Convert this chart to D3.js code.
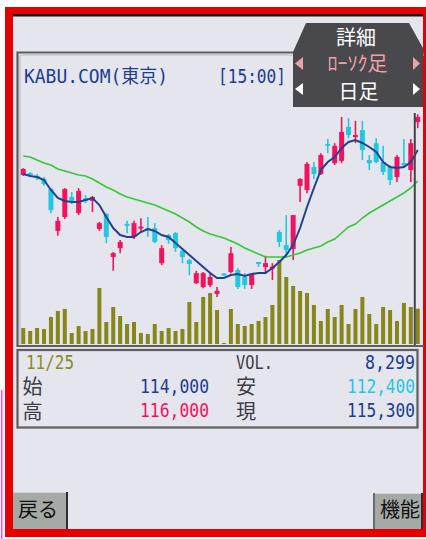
<!DOCTYPE html>
<html><head><meta charset="utf-8">
<script src="https://cdn.jsdelivr.net/npm/d3@7"></script>
<style>html,body{margin:0;padding:0;background:#fff;overflow:hidden}</style>
</head><body><svg id="c" width="426" height="539"></svg>
<script>
// ---- data ----
const openP  = [100200,100700,100000,99200,96600,85700,89300,94500,90300,94200,93500,86200,90100,78900,81200,87500,84100,86400,86400,86400,77300,84600,85100,80500,78100,72100,71100,71600,69300,74500,75000,75500,73700,71600,77600,76300,76000,85400,82000,81000,97400,96300,102300,100500,108300,103300,103900,112700,110100,111900,104100,108500,103600,102300,99700,103300,101500,114000];
const highP  = [102000,101000,100500,99700,96800,89300,96800,95800,96800,95000,94800,88000,90300,80200,83300,88300,88300,89000,89300,87700,82000,84900,85400,81000,78400,75300,75000,74700,71100,74700,81500,76000,74700,74700,77600,79200,77300,85900,89800,89800,99400,103600,103600,105900,109600,108500,115300,115000,114300,114300,105400,109800,107800,102800,105400,109600,109600,116000];
const lowP   = [100000,99700,98900,97400,90300,84400,88800,92700,89800,92900,90600,85700,82500,75300,79900,85100,83600,85400,84100,82500,76800,82300,80200,77300,74200,71900,70800,71100,68500,74000,74700,70600,70600,70600,76300,74700,72900,81500,78900,78100,93200,95500,99200,100200,105900,102800,103300,109800,108500,104100,101500,103300,100200,97600,98400,102000,98400,112400];
const closeP = [101800,100200,99400,97900,91100,88300,96600,93200,96100,93500,94500,87700,84100,79900,82800,87000,87700,86700,85900,82800,81200,83300,81200,78900,77100,74700,74700,73700,70100,74200,79900,71100,71600,74500,77100,77300,76300,82800,80700,89800,99200,103100,100500,105400,107800,107800,111400,110600,110600,106700,103300,103600,101000,98900,104900,102800,108500,115300];
const volume = [3760,3060,3760,3530,6350,7760,8230,2590,4230,3060,3530,13160,5170,8700,6580,4700,5170,2590,2350,4700,3060,3760,3060,3530,9870,5170,11050,11990,7990,240,8230,4700,4230,4700,5410,6350,9170,19740,15750,13630,12460,11990,9170,5410,8230,6350,9170,4700,8230,11050,7050,4700,8700,7990,5410,9640,8700,8299];
const maShort = [100480,99960,99700,98920,96320,94240,93460,93200,93200,93720,94240,92420,89300,86440,84620,84100,84100,85400,86180,85660,84620,84100,82540,80980,79420,77860,76300,74740,73440,73440,74220,74480,73960,74480,74740,74740,76040,77600,79420,82020,86440,91900,96840,101520,103600,104900,107240,108800,109320,108540,107500,106200,103600,102300,102040,102300,103600,106720];
const maLong  = [105160,104900,104120,103340,102820,101780,101260,100740,100220,99960,99180,98140,97100,96320,95280,94500,93980,93460,92940,92420,91640,90860,90080,89040,88000,86700,85660,84880,84360,83840,83060,82280,81240,80460,79680,78900,78900,78900,78900,79420,79940,80720,81240,81760,82800,83580,85140,86700,87480,89040,90340,91380,92420,93460,94500,95540,96840,98660];
const days = openP.map((_, i) => i);

const headerName = "KABU.COM(東京)";
const headerTime = "[15:00]";
const tabLines = ["詳細", "ﾛｰｿｸ足", "日足"];
const infoDate = "11/25";
const infoLabels = ["VOL.", "始", "安", "高", "現"];
const infoValues = ["8,299", "114,000", "112,400", "116,000", "115,300"];
const buttons = ["戻る", "機能"];

// ---- drawing ----
const svg = d3.select('#c');
const mono = "'DejaVu Sans Mono','Noto Sans CJK JP',monospace";
const BG = '#e5e5ee';
const PINK = '#f2125e', CYAN = '#22c8e0', BLUE = '#1c3d8e', OLIVE = '#86861a';

svg.append('rect').attr('width', 426).attr('height', 539).attr('fill', '#fff');
svg.append('rect').attr('x', 5).attr('y', 7).attr('width', 421).attr('height', 530).attr('fill', '#e60000');
svg.append('rect').attr('x', 13).attr('y', 16).attr('width', 410).attr('height', 513).attr('fill', BG);
svg.append('rect').attr('x', 13).attr('y', 14).attr('width', 410).attr('height', 2.5).attr('fill', '#151515');
svg.append('rect').attr('x', 1).attr('y', 390).attr('width', 1.5).attr('height', 149).attr('fill', '#ff44ff');

// chart box borders (left, top, bottom)
svg.append('path').attr('d', 'M424,52.5 H17.5 V346 H424').attr('fill', 'none')
  .attr('stroke', '#5e5e5e').attr('stroke-width', 2.2);
svg.append('path').attr('d', 'M424,55 H20 V344').attr('fill', 'none')
  .attr('stroke', '#b8b8c0').attr('stroke-width', 1);

// scales
const x = d3.scaleBand().domain(days).range([19.8, 421.2]).padding(0);
const cx = i => x(i) + x.bandwidth() / 2;
const y = d3.scaleLinear().domain([60000, 125000]).range([329.7, 79.7]);
const v = d3.scaleLinear().domain([0, 23500]).range([344, 244]);

svg.append('clipPath').attr('id', 'clip').append('rect')
  .attr('x', 19).attr('y', 54).attr('width', 404).attr('height', 291);
const g = svg.append('g').attr('clip-path', 'url(#clip)');

// volume
g.selectAll('rect.vol').data(days).join('rect').attr('class', 'vol')
  .attr('x', i => cx(i) - 2).attr('width', 4)
  .attr('y', i => v(volume[i])).attr('height', i => v(0) - v(volume[i]))
  .attr('fill', OLIVE);

// candles
const col = i => closeP[i] >= openP[i] ? PINK : CYAN;
g.selectAll('line.wick').data(days).join('line').attr('class', 'wick')
  .attr('x1', cx).attr('x2', cx)
  .attr('y1', i => y(highP[i])).attr('y2', i => y(lowP[i]))
  .attr('stroke', col).attr('stroke-width', 1.6);
g.selectAll('rect.body').data(days).join('rect').attr('class', 'body')
  .attr('x', i => cx(i) - 2.5).attr('width', 5)
  .attr('y', i => { const a = y(Math.max(openP[i], closeP[i])), b = y(Math.min(openP[i], closeP[i])); return b - a < 2 ? (a + b) / 2 - 1 : a; })
  .attr('height', i => Math.max(2, y(Math.min(openP[i], closeP[i])) - y(Math.max(openP[i], closeP[i]))))
  .attr('fill', col);

// moving averages
const lineGen = arr => d3.line().x(i => cx(i)).y(i => y(arr[i]))(days);
g.append('path').attr('d', lineGen(maLong)).attr('fill', 'none').attr('stroke', '#36c836').attr('stroke-width', 1.6);
g.append('path').attr('d', lineGen(maShort)).attr('fill', 'none').attr('stroke', '#21438f').attr('stroke-width', 2);

// cursor
const last = days.length - 1;
svg.append('line').attr('x1', x(last) + 0.5).attr('x2', x(last) + 0.5).attr('y1', 113).attr('y2', 345)
  .attr('stroke', '#444448').attr('stroke-width', 2);

// text helper
function txt(px, py, s, o = {}) {
  const t = svg.append('text').attr('x', px).attr('y', py).text(s)
    .attr('font-family', mono).attr('font-size', o.size || 19)
    .attr('fill', o.fill || BLUE);
  if (o.len) t.attr('textLength', o.len).attr('lengthAdjust', 'spacingAndGlyphs');
  if (o.anchor) t.attr('text-anchor', o.anchor);
  return t;
}
txt(24, 83, headerName, { len: 144 });
txt(218, 83, headerTime, { len: 68 });

// tab
svg.append('polygon').attr('points', '306,23 409,23 423,48 423,107 293,107 293,52').attr('fill', '#48484d');
txt(356, 44.5, tabLines[0], { size: 20, fill: '#ffffff', anchor: 'middle' });
txt(357.5, 70.5, tabLines[1], { size: 20, fill: '#f0a0aa', anchor: 'middle' });
txt(358.5, 98.5, tabLines[2], { size: 20, fill: '#ffffff', anchor: 'middle' });
svg.append('polygon').attr('points', '295,63.5 303,57 303,70').attr('fill', '#f0a0aa');
svg.append('polygon').attr('points', '420,63.5 413,57 413,70').attr('fill', '#f0a0aa');
svg.append('polygon').attr('points', '295,89 303,83 303,95').attr('fill', '#ffffff');
svg.append('polygon').attr('points', '420,89 413,83 413,95').attr('fill', '#ffffff');

// info panel
svg.append('rect').attr('x', 17.5).attr('y', 350).attr('width', 400).attr('height', 77.5)
  .attr('fill', 'none').attr('stroke', '#5e5e5e').attr('stroke-width', 2.2);
const LBL = '#3c3c44';
txt(26, 369, infoDate, { fill: '#8a8a22', len: 48 });
txt(236, 369, infoLabels[0], { fill: LBL, len: 37 });
txt(365, 369, infoValues[0], { len: 50 });
txt(22.5, 394, infoLabels[1], { size: 20, fill: LBL });
txt(236, 394, infoLabels[2], { size: 20, fill: LBL });
txt(22.5, 418.5, infoLabels[3], { size: 20, fill: LBL });
txt(236, 418.5, infoLabels[4], { size: 20, fill: LBL });
txt(140, 393, infoValues[1], { len: 69 });
txt(347, 393, infoValues[2], { fill: CYAN, len: 68 });
txt(140, 417, infoValues[3], { fill: PINK, len: 69 });
txt(347, 417, infoValues[4], { len: 68 });

// buttons
function button(bx, by, bw, bh, label, tx) {
  svg.append('rect').attr('x', bx).attr('y', by).attr('width', bw).attr('height', bh).attr('fill', '#a6aaa6');
  svg.append('path').attr('d', `M${bx},${by + 0.5} H${bx + bw}`).attr('stroke', '#d4d6d4').attr('stroke-width', 1);
  svg.append('path').attr('d', `M${bx + bw - 1},${by} V${by + bh}`).attr('stroke', '#2e2e2e').attr('stroke-width', 2);
  txt(tx, 517, label, { size: 20, fill: '#111' });
}
button(13, 492, 55, 37, buttons[0], 18);
button(373, 493, 50, 36, buttons[1], 380);
svg.append('path').attr('d', 'M374,493 V529').attr('stroke', '#555').attr('stroke-width', 1.5);
</script></body></html>
